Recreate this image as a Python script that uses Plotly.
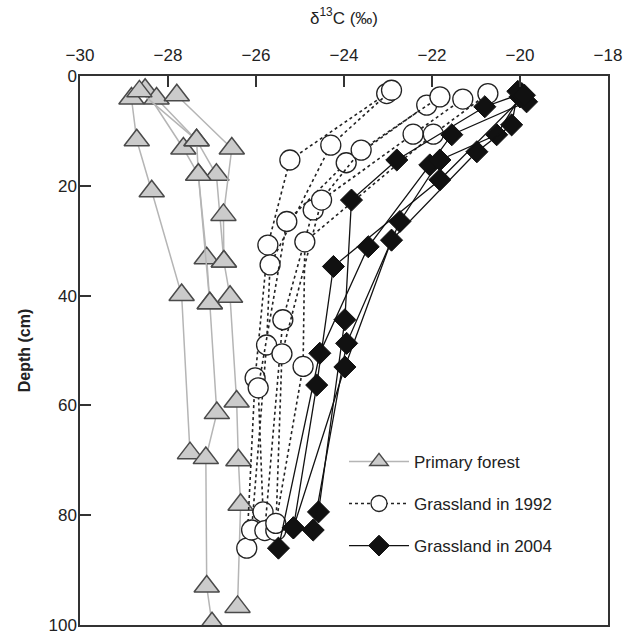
import plotly.graph_objects as go

# ---- Data ----
# Primary forest profiles: delta13C (per mil) and depth (cm)
forest_d13c = [
    [-28.83, -28.71, -28.37, -27.69, -27.50],
    [-28.52, -27.65, -27.31, -27.12, -27.05, -26.89, -27.14, -27.12, -27.00],
    [-28.26, -27.35, -26.90, -26.73, -26.59, -26.44, -26.40, -26.35, -26.42],
    [-27.80, -26.55, -26.74, -26.73],
    [-28.65, -27.35, -27.31, -27.05],
]
forest_depth = [
    [4.1, 11.7, 21.0, 39.9, 68.7],
    [2.5, 13.2, 18.0, 33.2, 41.4, 61.4, 69.6, 93.0, 99.7],
    [4.1, 11.7, 18.0, 33.8, 40.2, 59.3, 70.0, 78.1, 96.7],
    [3.5, 13.2, 25.3, 33.8],
    [2.8, 11.7, 18.0, 41.4],
]

# Grassland in 1992 profiles
g1992_d13c = [
    [-23.03, -25.23, -25.73, -26.02, -26.21],
    [-22.92, -24.30, -25.68, -25.76, -26.10],
    [-22.12, -23.95, -25.30, -25.95, -25.84],
    [-21.82, -23.61, -24.70, -25.39, -25.80],
    [-21.30, -22.43, -24.51, -25.41, -25.55],
    [-20.73, -21.97, -24.89, -24.93, -25.55],
]
g1992_depth = [
    [3.2, 15.3, 30.8, 55.0, 86.0],
    [2.6, 12.6, 34.4, 49.0, 82.7],
    [5.3, 15.8, 26.5, 56.8, 79.4],
    [3.8, 13.5, 24.4, 44.4, 82.8],
    [4.2, 10.6, 22.6, 50.6, 82.8],
    [3.2, 10.6, 30.2, 52.9, 81.5],
]

# Grassland in 2004 profiles
g2004_d13c = [
    [-19.96, -20.80, -22.80, -23.83, -23.98, -24.58],
    [-19.85, -21.55, -22.05, -23.45, -24.55, -25.49],
    [-20.00, -20.53, -21.82, -22.73, -23.94, -24.70],
    [-20.05, -20.19, -20.98, -22.92, -23.98, -25.15],
    [-19.90, -21.82, -24.24, -24.62, -25.15],
]
g2004_depth = [
    [3.2, 5.6, 15.3, 22.6, 44.4, 79.4],
    [4.7, 10.7, 16.2, 31.1, 50.5, 86.0],
    [3.8, 10.7, 15.3, 26.5, 48.7, 82.7],
    [2.8, 8.9, 13.8, 29.9, 53.0, 82.3],
    [3.5, 18.9, 34.7, 56.3, 82.3],
]

x_ticks = [-30, -28, -26, -24, -22, -20, -18]
y_ticks = [0, 20, 40, 60, 80, 100]

series = [
    ("Primary forest", forest_d13c, forest_depth,
     dict(symbol="triangle-up", size=22, color="#cbcbcb", line=dict(color="#4a4a4a", width=1.5)),
     dict(color="#b5b5b5", width=1.5, dash="solid")),
    ("Grassland in 1992", g1992_d13c, g1992_depth,
     dict(symbol="circle", size=20, color="white", line=dict(color="#222222", width=1.3)),
     dict(color="#222222", width=1.6, dash="dot")),
    ("Grassland in 2004", g2004_d13c, g2004_depth,
     dict(symbol="diamond", size=17, color="#111111", line=dict(color="#111111", width=1)),
     dict(color="#111111", width=1.3, dash="solid")),
]

fig = go.Figure()
for name, xs, ds, mk, ln in series:
    for i, (xv, dv) in enumerate(zip(xs, ds)):
        fig.add_trace(go.Scatter(
            x=xv, y=dv, mode="lines+markers", name=name,
            legendgroup=name, showlegend=(i == 0),
            marker=mk, line=ln,
        ))

font_family = "Liberation Sans, Arial, sans-serif"
fig.update_layout(
    width=625, height=637,
    margin=dict(l=80, r=17, t=76, b=12),
    paper_bgcolor="white", plot_bgcolor="white",
    font=dict(family=font_family, size=17, color="#222222"),
    showlegend=True,
    legend=dict(
        x=0.5, y=0.33, xanchor="left", yanchor="top",
        bgcolor="rgba(0,0,0,0)", font=dict(size=17, color="#222222"),
        tracegroupgap=17, itemwidth=60, itemsizing="trace",
    ),
    xaxis=dict(
        side="top", range=[-30, -18], tickmode="array", tickvals=x_ticks,
        ticktext=["\u2212" + str(abs(v)) for v in x_ticks],
        ticks="inside", ticklen=11, tickwidth=1.5, tickcolor="#333333",
        ticklabelstandoff=6,
        showline=True, linecolor="#333333", linewidth=1.5, mirror=True,
        showgrid=False, zeroline=False,
        title=dict(text="\u03b4<sup>13</sup>C (\u2030)", font=dict(size=17), standoff=18),
        automargin=False,
    ),
    yaxis=dict(
        range=[100, 0], tickmode="array", tickvals=y_ticks,
        ticks="inside", ticklen=11, tickwidth=1.5, tickcolor="#333333",
        ticklabelstandoff=-2,
        showline=True, linecolor="#333333", linewidth=1.5, mirror=True,
        showgrid=False, zeroline=False,
        title=dict(text="<b>Depth (cm)</b>", font=dict(size=16), standoff=14),
        automargin=False,
    ),
)

fig.write_html(
    "out.html",
    config={"displayModeBar": False},
    post_script="document.body.style.margin='0';document.body.style.overflow='hidden';",
)
